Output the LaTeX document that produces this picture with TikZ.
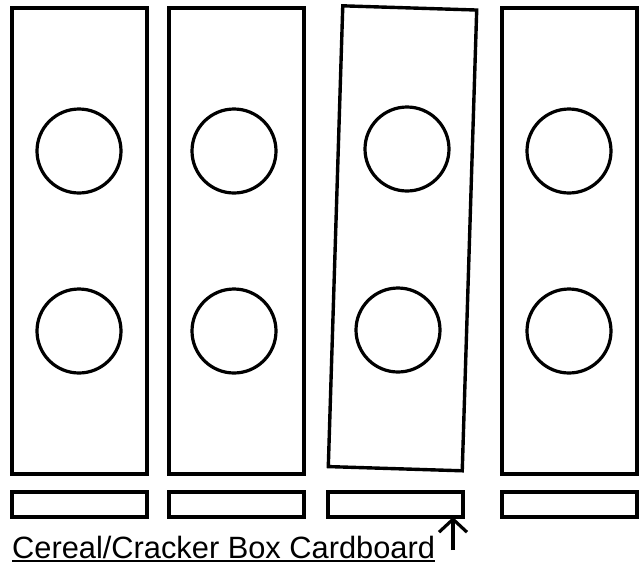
\documentclass[tikz,border=0pt]{standalone}
\usepackage{fontspec}
\setmainfont{Liberation Sans}
\usetikzlibrary{arrows.meta}
\begin{document}
\begin{tikzpicture}[x=1pt,y=-1pt,
  panel/.style={draw=black,line width=3.4pt,minimum width=135pt,minimum height=466pt,inner sep=0pt,fill=white},
  strip/.style={draw=black,line width=3.4pt,minimum width=135pt,minimum height=25pt,inner sep=0pt},
  hole/.style={draw=black,line width=3.2pt,circle,minimum size=84pt,inner sep=0pt}]
\useasboundingbox[fill=white] (0,0) rectangle (642,566);
% panels
\node[panel] (p1) at (79.5,241) {};
\node[panel] (p2) at (236.5,241) {};
\node[panel,minimum height=461pt,minimum width=134pt,rotate=-1.8] (p3) at (402.5,238.3) {};
\node[panel] (p4) at (569.5,241) {};
% holes
\node[hole] (h1a) at (79,151) {};
\node[hole] (h1b) at (79,331) {};
\node[hole] (h2a) at (234,151) {};
\node[hole] (h2b) at (234,331) {};
\node[hole] (h3a) at (407,149) {};
\node[hole] (h3b) at (398,330) {};
\node[hole] (h4a) at (569,151) {};
\node[hole] (h4b) at (569,331) {};
% strips
\node[strip] (s1) at (79.5,504.5) {};
\node[strip] (s2) at (236.5,504.5) {};
\node[strip] (s3) at (395.5,504.5) {};
\node[strip] (s4) at (569.5,504.5) {};
% label
\node[anchor=base west,inner sep=0pt,font=\fontsize{30.8}{34}\selectfont] (lbl) at (12,558) {Cereal/Cracker Box Cardboard};
\draw[line width=2pt] ([yshift=-3pt]lbl.base west) -- ([yshift=-3pt]lbl.base east);
\coordinate (afoot) at (453,550);
\coordinate (atip) at (453,517);
\draw[line width=3.2pt,-{Straight Barb[length=13pt,width=28pt,line width=3.2pt]}] (afoot) -- (atip);
\end{tikzpicture}
\end{document}
